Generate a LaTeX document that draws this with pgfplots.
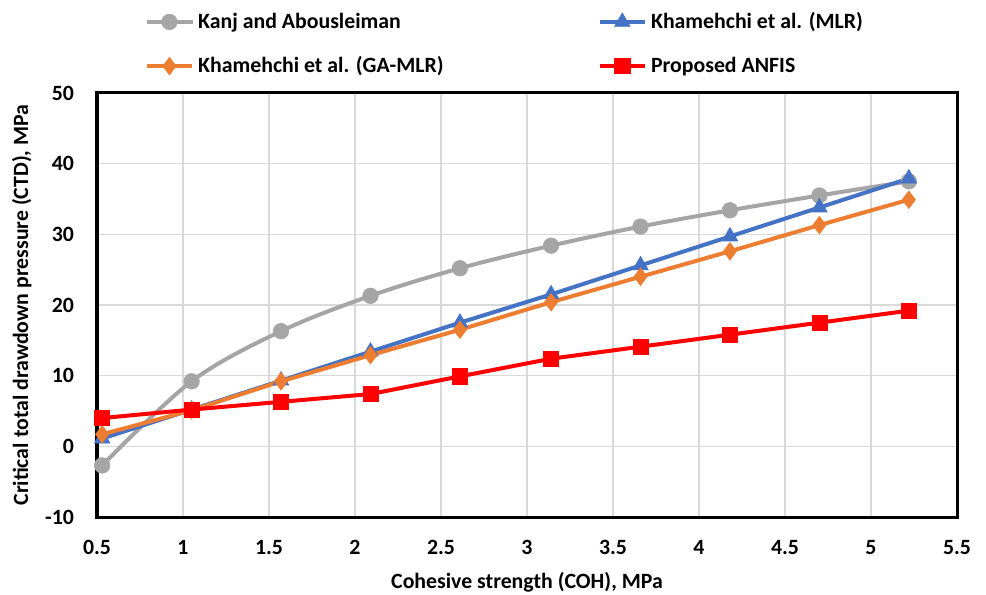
\documentclass[border=0pt]{standalone}
\usepackage{fontspec}
\setmainfont{Carlito}
\usepackage{pgfplots}
\pgfplotsset{compat=1.18}
\usetikzlibrary{calc}
\definecolor{cgray}{HTML}{A5A5A5}
\definecolor{cblue}{HTML}{4472C4}
\definecolor{corange}{HTML}{ED7D31}
\definecolor{cred}{HTML}{FF0000}
\begin{document}
\begin{tikzpicture}
\begin{axis}[
 scale only axis, width=430pt, height=212pt,
 xmin=0.5, xmax=5.5, ymin=-10, ymax=50,
 xtick={0.5,1,1.5,2,2.5,3,3.5,4,4.5,5,5.5},
 ytick={-10,0,10,20,30,40,50},
 grid=major, grid style={draw=black!15, line width=0.6pt},
 axis line style={line width=1.5pt},
 major tick length=0pt,
 tick label style={font=\fontsize{10.9}{13}\selectfont\bfseries},
 xticklabel style={yshift=-8pt},
 yticklabel style={xshift=-8pt},
 /pgf/number format/assume math mode=true,
 label style={font=\fontsize{10.9}{13}\selectfont\bfseries},
 xlabel={Cohesive strength (COH), MPa},
 ylabel={Critical total drawdown pressure (CTD), MPa},
 xlabel style={yshift=-2pt},
 ylabel style={yshift=0pt},
 legend columns=2,
 legend cell align=left,
 legend style={draw=none, fill=none, at={(axis description cs:0.048,1.21)}, anchor=north west,
   font=\fontsize{10.9}{13}\selectfont\bfseries, row sep=8.5pt,
   /tikz/every even column/.append style={column sep=75pt}},
 legend image code/.code={\draw[mark repeat=2, mark phase=2, #1] plot coordinates {(0cm,0cm) (0.4cm,0cm) (0.8cm,0cm)};},
]
\addplot[cgray, line width=2pt, smooth, tension=0.55, mark=*, mark size=3.9pt, mark options={fill=cgray, draw=cgray, line width=0.3pt}]
 coordinates {(0.53,-2.7) (1.05,9.2) (1.57,16.3) (2.09,21.3) (2.61,25.2) (3.14,28.4) (3.66,31.1) (4.18,33.4) (4.70,35.5) (5.22,37.5)};
\addlegendentry{Kanj and Abousleiman}
\addplot[cblue, line width=2pt, mark=triangle*, mark size=4.5pt, mark options={fill=cblue, draw=cblue, line width=0.3pt}]
 coordinates {(0.53,1.1) (1.05,5.2) (1.57,9.3) (2.09,13.4) (2.61,17.5) (3.14,21.5) (3.66,25.6) (4.18,29.7) (4.70,33.8) (5.22,37.9)};
\addlegendentry{Khamehchi et al. (MLR)}
\addplot[corange, line width=2pt, mark=diamond*, mark size=4.4pt, mark options={fill=corange, draw=corange, line width=0.3pt}]
 coordinates {(0.53,1.7) (1.05,5.1) (1.57,9.2) (2.09,12.9) (2.61,16.5) (3.14,20.4) (3.66,24.0) (4.18,27.6) (4.70,31.3) (5.22,34.9)};
\addlegendentry{Khamehchi et al. (GA-MLR)}
\addplot[cred, line width=2pt, mark=square*, mark size=3.8pt, mark options={fill=cred, draw=cred, line width=0.3pt, rounded corners=1pt}]
 coordinates {(0.53,4.0) (1.05,5.2) (1.57,6.3) (2.09,7.4) (2.61,9.9) (3.14,12.4) (3.66,14.1) (4.18,15.8) (4.70,17.5) (5.22,19.2)};
\addlegendentry{Proposed ANFIS}
\end{axis}
\pgfresetboundingbox
\path[use as bounding box] ($(current axis.south west)+(-48.5pt,-38.5pt)$) rectangle ($(current axis.north east)+(14.5pt,46.5pt)$);
\end{tikzpicture}
\end{document}
